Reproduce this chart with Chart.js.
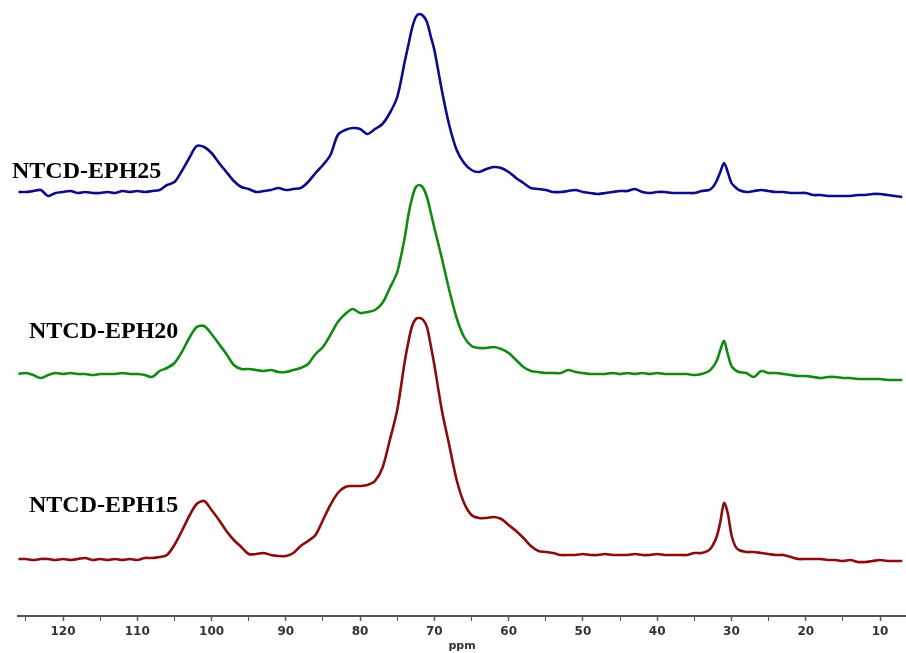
<!DOCTYPE html>
<html><head><meta charset="utf-8">
<script src="https://cdn.jsdelivr.net/npm/chart.js@4.4.1/dist/chart.umd.min.js"></script>
<style>html,body{margin:0;padding:0;background:#fff;overflow:hidden}#wrap{width:906px;height:653px;position:relative}</style>
</head><body><div id="wrap"><canvas id="c" width="906" height="653"></canvas></div>
<script>
// Chemical shift grid (ppm)
const ppm = [126,125,124,123,122,121,120,119,118,117,116,115,114,113,112,111,110,109,108,107,
  106,105,104,103,102,101,100,99,98,97,96,95,94,93,92,91,90,89,88,87,
  86,85,84,83,82,81,80,79,78,77,76,75,74,
  73.5,73,72.5,72,71.5,71,70.5,70,
  69,68,67,66,65,64,63,62,61,60,59,58,57,56,55,54,53,52,51,50,
  49,48,47,46,45,44,43,42,41,40,39,38,37,36,35,34,33,
  32.5,32,31.5,31,30.5,30,29.5,
  29,28,27,26,25,24,23,22,21,20,19,18,17,16,15,14,13,12,11,10,9,8,7];

const seriesNames = ['NTCD-EPH25','NTCD-EPH20','NTCD-EPH15'];

// Intensities (relative to each trace's own baseline)
const eph25 = [0,0,1,2,-4,-1,0,1,-1,0, -1,-1,0,-1,1,0,1,0,1,2,
  7,10,21,34,46,45,39,29,20,11, 5,3,0,1,2,4,2,3,4,10,
  19,27,37,57,62,64,63,58,63,68, 79,95,130,
  147,164,175,178,176,170,156,142,
  102,67,42,29,22,20,23,25,24,20, 14,9,4,3,2,0,0,1,2,0,
  -1,-2,-1,0,1,1,3,0,-1,0, 0,-1,-1,-1,-1,1,2,
  5,11,20,29,20,9,5,
  2,0,1,2,1,0,0,-1,-1,-1, -3,-3,-4,-4,-4,-4,-3,-3,-2,-2, -3,-4,-5];

const eph20 = [0,1,-1,-4,-1,1,0,1,0,0, -1,0,0,0,1,0,0,-1,-3,3,
  6,11,22,36,47,48,40,30,20,9, 5,5,4,3,4,2,2,4,6,10,
  20,27,39,52,60,65,61,62,64,71, 86,102,136,
  159,176,187,189,186,177,162,146,
  116,84,56,37,28,26,26,27,25,21, 14,7,3,2,1,1,1,4,2,1,
  0,0,0,1,0,1,0,1,0,1, 0,0,0,0,-1,0,3,
  7,13,24,33,20,8,4,
  2,1,-3,3,1,1,0,-1,-2,-2, -3,-4,-3,-3,-4,-4,-5,-5,-5,-5, -6,-6,-6];

const eph15 = [0,0,-1,0,0,-1,0,-1,0,1, -1,0,-1,0,-1,0,-1,1,1,2,
  4,14,28,43,55,58,49,39,28,19, 12,5,5,6,4,3,3,6,13,18,
  24,39,54,66,72,73,73,74,78,91, 119,149,197,
  217,233,240,241,239,232,214,194,
  149,114,79,56,44,41,41,42,40,34, 28,21,13,8,7,6,4,4,4,5,
  4,4,5,4,4,4,5,4,4,5, 4,4,4,4,6,6,9,
  14,22,37,56,46,24,13,
  9,7,7,6,5,4,4,2,0,0, 0,0,-1,-1,-2,-1,-3,-3,-2,-1, -2,-2,-2];

// Vertical stacking offsets of each trace
const offsets = [424, 242, 57];

const colors = ['#0c0c86', '#128a12', '#8a0d0d'];
const labelPos = [[12,178],[29,338],[29,512]];

function toPoints(vals, off){ return ppm.map((p,i)=>({x:p, y:vals[i]+off})); }

const labelPlugin = {
  id:'labels',
  afterDatasetsDraw(chart){
    const c = chart.ctx;
    c.save();
    c.fillStyle = '#000';
    c.font = 'bold 24px "Liberation Serif", "Times New Roman", serif';
    c.textBaseline = 'alphabetic';
    seriesNames.forEach((n,i)=>c.fillText(n, labelPos[i][0], labelPos[i][1]));
    c.restore();
  }
};

new Chart(document.getElementById('c').getContext('2d'), {
  type:'line',
  data:{datasets:[eph25,eph20,eph15].map((v,i)=>({
    label:seriesNames[i], data:toPoints(v, offsets[i]),
    borderColor:colors[i], borderWidth:2.6, pointRadius:0,
    tension:0.3, fill:false
  }))},
  options:{
    responsive:false, animation:false,
    layout:{padding:{left:18,right:0,top:0,bottom:0}},
    plugins:{legend:{display:false},tooltip:{enabled:false}},
    scales:{
      x:{type:'linear', reverse:true, min:6.5, max:126.06,
        border:{display:true,color:'#555',width:2},
        grid:{display:true, drawOnChartArea:false, drawTicks:true, tickLength:5, color:'#555', tickColor:'#555',
          tickWidth:(ctx)=> (ctx.tick && Math.round(ctx.tick.value)%10===0) ? 1.5 : 1},
        ticks:{stepSize:5, includeBounds:false, autoSkip:false, maxRotation:0, color:'#333', padding:4,
          font:{family:'DejaVu Sans', weight:'bold', size:12},
          callback:(v)=> Math.round(v)%10===0 ? String(Math.round(v)) : ''},
        title:{display:true, text:'ppm', color:'#333', padding:0,
          font:{family:'DejaVu Sans', weight:'bold', size:11}},
        afterFit:(s)=>{ s.height = 37; }
      },
      y:{display:false, min:0, max:616}
    }
  },
  plugins:[labelPlugin]
});
</script></body></html>
